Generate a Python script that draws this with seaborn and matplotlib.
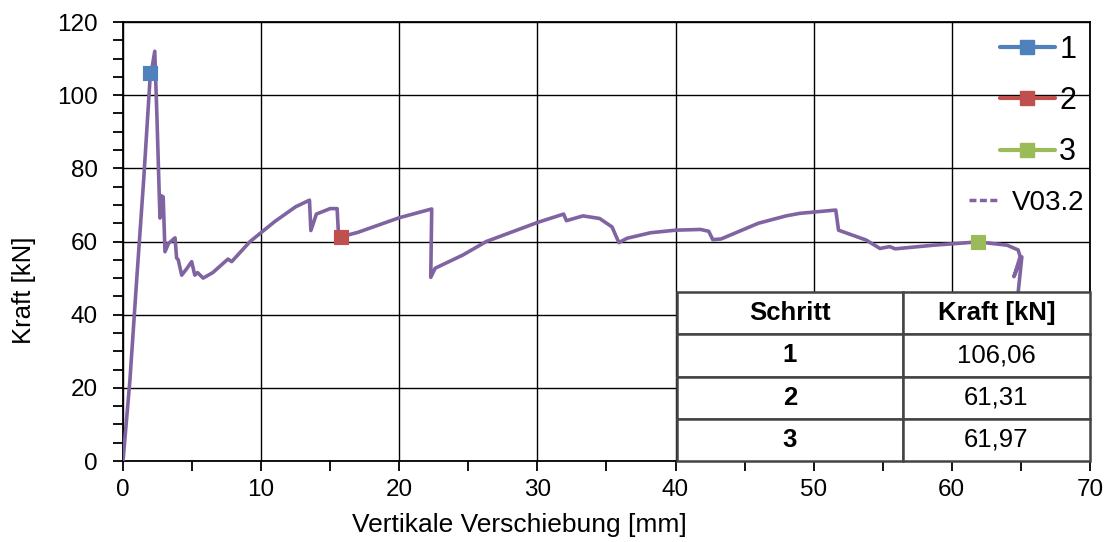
import numpy as np
import pandas as pd
import seaborn as sns
import matplotlib.pyplot as plt
from matplotlib.lines import Line2D
from matplotlib.ticker import MultipleLocator

# Kraft-Verschiebungs-Kurve V03.2
weg = [0.0, 0.5, 1.0, 1.5, 1.95, 2.3, 2.45, 2.63, 2.68, 2.78, 2.91, 3.04, 3.3, 3.77, 3.88, 4.0,
       4.25, 4.6, 4.97, 5.2, 5.4, 5.8, 6.5, 7.6, 7.87, 9.2, 11.0, 12.5, 13.5, 13.6, 14.0,
       15.0, 15.5, 15.6, 15.8, 17.0, 20.0, 22.35, 22.28, 22.6, 24.6, 26.3, 30.0, 31.9, 32.1,
       33.3, 34.5, 35.4, 35.9, 36.5, 38.2, 40.0, 41.8, 42.4, 42.7, 43.3, 46.0, 48.0, 49.0,
       51.6, 51.8, 53.8, 54.8, 55.5, 55.9, 58.7, 61.9, 64.0, 64.8, 64.95, 64.5, 65.07,
       64.8, 64.6, 62.0, 59.0, 57.5, 57.2]
kraft = [0.0, 22.0, 50.0, 77.0, 104.0, 112.0, 95.0, 72.2, 66.4, 72.5, 72.2, 57.2, 59.5, 61.0, 55.5, 55.0,
         50.8, 52.5, 54.5, 50.8, 51.5, 50.0, 51.5, 55.2, 54.5, 60.0, 65.5, 69.5, 71.3, 63.0, 67.5,
         69.0, 69.0, 62.0, 61.3, 62.5, 66.5, 68.9, 50.2, 52.7, 56.3, 60.0, 65.2, 67.5, 65.7,
         67.0, 66.3, 64.0, 59.7, 60.9, 62.4, 63.1, 63.3, 62.8, 60.5, 60.7, 65.0, 67.0, 67.7,
         68.6, 63.1, 60.4, 58.1, 58.6, 58.0, 59.0, 59.9, 59.0, 57.7, 55.9, 50.4, 55.8,
         46.0, 40.0, 25.0, 10.0, 2.0, 0.0]

schritte = ["1", "2", "3"]
schritt_weg = [1.95, 15.8, 61.9]
schritt_kraft = [106.06, 61.31, 59.9]
tabelle_kraft = ["106,06", "61,31", "61,97"]
farben = ["#4F81BD", "#C0504D", "#9BBB59"]
kurven_farbe = "#8064A2"

sns.set_style("white")
plt.rcParams['font.family'] = ['Liberation Sans', 'DejaVu Sans']
plt.rcParams.update({"text.color": "black", "axes.labelcolor": "black",
                     "xtick.color": "black", "ytick.color": "black"})

fig = plt.figure(figsize=(11.08, 5.42), dpi=100)
ax = fig.add_axes([0.111, 0.1494, 0.8727, 0.81])

df = pd.DataFrame({"weg": weg, "kraft": kraft})
sns.lineplot(data=df, x="weg", y="kraft", sort=False, estimator=None,
             color=kurven_farbe, lw=2.6, ax=ax, zorder=3)

for s, xw, yk, c in zip(schritte, schritt_weg, schritt_kraft, farben):
    sns.scatterplot(x=[xw], y=[yk], marker="s", s=105, color=c, edgecolor=c,
                    ax=ax, zorder=4)

ax.set_xlim(0, 70)
ax.set_ylim(0, 120)
ax.xaxis.set_major_locator(MultipleLocator(10))
ax.xaxis.set_minor_locator(MultipleLocator(5))
ax.yaxis.set_major_locator(MultipleLocator(20))
ax.yaxis.set_minor_locator(MultipleLocator(5))
ax.tick_params(which="both", direction="out", length=7, width=1.3, color="black",
               labelcolor="black", bottom=True, left=True, labelsize=17.5)
ax.tick_params(axis="y", pad=11)
ax.tick_params(axis="x", pad=6)
ax.grid(True, which="major", color="black", lw=1.0)
for sp in ax.spines.values():
    sp.set_color("black")
    sp.set_linewidth(1.3)
ax.set_xlabel("Vertikale Verschiebung [mm]", fontsize=19)
ax.set_ylabel("Kraft [kN]", fontsize=18.5)
ax.xaxis.set_label_coords(0.41, -0.118)
ax.yaxis.set_label_coords(-0.09, 0.39)

# Legende
h1 = [Line2D([], [], color=c, lw=3, marker="s", markersize=10) for c in farben]
leg1 = ax.legend(h1, schritte, loc="upper right", bbox_to_anchor=(1.008, 1.02),
                 frameon=False, fontsize=22, handlelength=1.8, handletextpad=0.15,
                 labelspacing=0.7, borderaxespad=0.3)
ax.add_artist(leg1)
h2 = [Line2D([], [], color=kurven_farbe, lw=2.5, ls=(0, (2.0, 1.0)))]
ax.legend(h2, ["V03.2"], loc="upper right", bbox_to_anchor=(1.02, 0.675),
          frameon=False, fontsize=20, handlelength=1.0, handletextpad=0.55)

# Tabelle
zellen = [[s, k] for s, k in zip(schritte, tabelle_kraft)]
tab = ax.table(cellText=zellen, colLabels=["Schritt", "Kraft [kN]"],
               cellLoc="center", bbox=[0.573, 0.0, 0.427, 0.385], zorder=5)
tab.auto_set_font_size(False)
tab.set_fontsize(18.5)
for (r, c), cell in tab.get_celld().items():
    cell.set_edgecolor("#444444")
    cell.set_linewidth(1.8)
    cell.set_facecolor("white")
    cell.set_width(0.547 * 0.427 if c == 0 else 0.453 * 0.427)
    if r == 0 or c == 0:
        cell.get_text().set_fontweight("bold")

fig.savefig("out.png", dpi=100)
